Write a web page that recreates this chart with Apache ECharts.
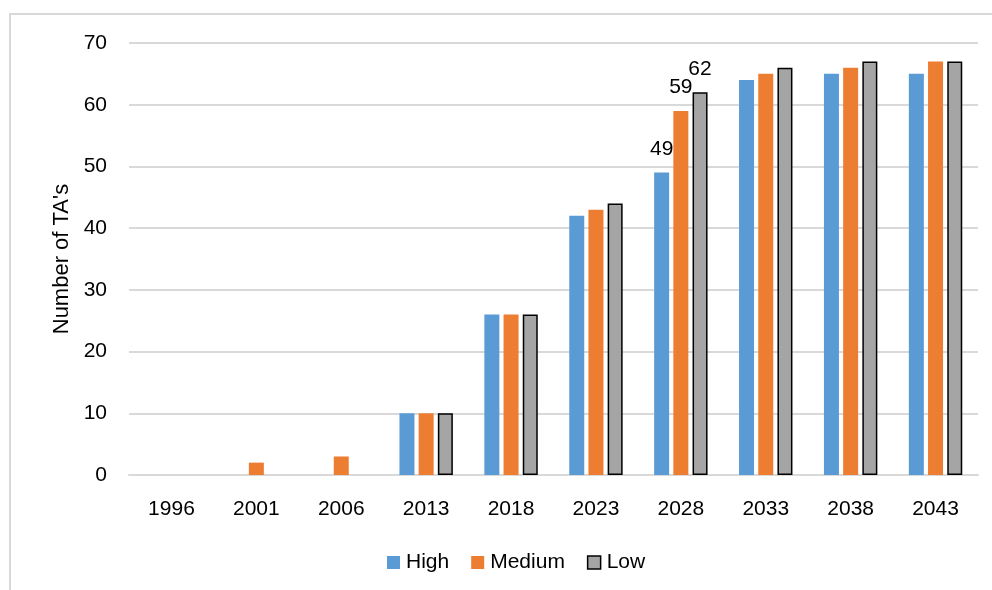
<!DOCTYPE html>
<html>
<head>
<meta charset="utf-8">
<script src="https://cdn.jsdelivr.net/npm/echarts@6/dist/echarts.min.js"></script>
<style>
  html, body { margin: 0; padding: 0; background: #fff; }
  #frame { position: absolute; left: 9px; top: 13px; width: 1000px; height: 600px; border: 2px solid #d9d9d9; box-sizing: border-box; }
  #chart { position: absolute; left: 0; top: 0; width: 992px; height: 590px; }
</style>
</head>
<body>
<div id="frame"></div>
<div id="chart"></div>
<script>
const years = ['1996', '2001', '2006', '2013', '2018', '2023', '2028', '2033', '2038', '2043'];
const high   = [0, 0, 0, 10, 26, 42, 49, 64, 65, 65];
const medium = [0, 2, 3, 10, 26, 43, 59, 65, 66, 67];
const low    = [0, 0, 0, 10, 26, 44, 62, 66, 67, 67];
const yTicks = [0, 10, 20, 30, 40, 50, 60, 70];
const labelledYear = '2028';

const FONT = 'Liberation Sans';
const FS = 21;
const labelIdx = years.indexOf(labelledYear);

// Value labels only on the highlighted year; empty bars get no outline.
function points(values) {
  return values.map((v, i) => {
    const p = { value: v };
    if (i === labelIdx) {
      p.label = { show: true, position: 'top', distance: 13, color: '#000', fontSize: FS, fontFamily: FONT };
    }
    if (v === 0) p.itemStyle = { borderWidth: 0 };
    return p;
  });
}

const chart = echarts.init(document.getElementById('chart'), null, { renderer: 'canvas' });
chart.setOption({
  animation: false,
  backgroundColor: 'transparent',
  grid: { left: 129, right: 14, top: 43, bottom: 115, containLabel: false },
  legend: {
    top: 547,
    left: 382,
    itemWidth: 13, itemHeight: 13, itemGap: 22,
    textStyle: { fontSize: FS, fontFamily: FONT, color: '#000', padding: [0, 0, 0, 1] },
    data: [
      { name: 'High', icon: 'rect' },
      { name: 'Medium', icon: 'rect' },
      { name: 'Low', icon: 'rect', itemStyle: { borderColor: '#000', borderWidth: 1.5 } }
    ]
  },
  xAxis: {
    type: 'category',
    data: years,
    axisLine: { show: true, lineStyle: { color: '#d9d9d9', width: 2 } },
    axisTick: { show: false },
    axisLabel: { color: '#000', fontSize: FS, fontFamily: FONT, margin: 24 }
  },
  yAxis: {
    type: 'value',
    min: yTicks[0], max: yTicks[yTicks.length - 1], interval: 10,
    name: "Number of TA's",
    nameLocation: 'middle',
    nameGap: 55,
    nameTextStyle: { color: '#000', fontSize: 22, fontFamily: FONT },
    axisLine: { show: false },
    axisTick: { show: false },
    axisLabel: { color: '#000', fontSize: FS, fontFamily: FONT, margin: 22 },
    splitLine: { lineStyle: { color: '#d9d9d9', width: 2 } }
  },
  series: [
    { name: 'High', type: 'bar', data: points(high), barWidth: 15, barGap: '28%',
      itemStyle: { color: '#5b9bd5' } },
    { name: 'Medium', type: 'bar', data: points(medium), barWidth: 15, barGap: '28%',
      itemStyle: { color: '#ed7d31' } },
    { name: 'Low', type: 'bar', data: points(low), barWidth: 15, barGap: '28%',
      itemStyle: { color: '#a5a5a5', borderColor: '#000', borderWidth: 1.5 } }
  ]
});
</script>
</body>
</html>
